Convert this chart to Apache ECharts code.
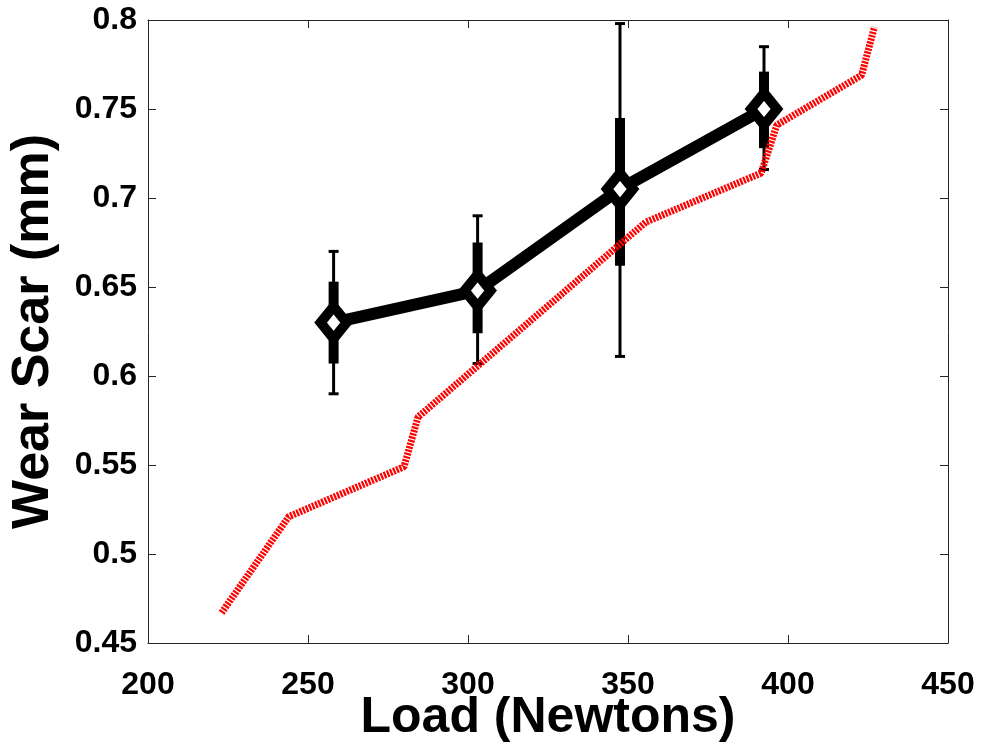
<!DOCTYPE html>
<html>
<head>
<meta charset="utf-8">
<script src="https://cdn.jsdelivr.net/npm/echarts@6/dist/echarts.min.js"></script>
<style>
  html, body { margin: 0; padding: 0; background: #fff; }
  #main { width: 984px; height: 752px; }
</style>
</head>
<body>
<div id="main"></div>
<script>
var chart = echarts.init(document.getElementById('main'));

// measured wear scar, mean per load
var loads = [258, 303, 347.5, 392.5];
var wearMean = [0.63, 0.648, 0.705, 0.75];
// outer (thin) error bars
var thinLow = [0.59, 0.607, 0.611, 0.716];
var thinHigh = [0.67, 0.69, 0.798, 0.785];
// inner (thick) error bars
var thickLow = [0.607, 0.624, 0.662, 0.728];
var thickHigh = [0.653, 0.675, 0.745, 0.771];

// model curve (red)
var modelLoad = [223, 244, 280, 284.4, 355.6, 391.6, 396.5, 423, 427];
var modelWear = [0.467, 0.521, 0.549, 0.577, 0.6865, 0.714, 0.741, 0.769, 0.796];

var xTicks = [200, 250, 300, 350, 400, 450];
var yTicks = [0.45, 0.5, 0.55, 0.6, 0.65, 0.7, 0.75, 0.8];

var meanData = loads.map(function (x, i) { return [x, wearMean[i]]; });
var barData = loads.map(function (x, i) {
    return [x, thinLow[i], thinHigh[i], thickLow[i], thickHigh[i]];
});
var modelData = modelLoad.map(function (x, i) { return [x, modelWear[i]]; });

var tickFont = {
    fontFamily: 'Liberation Sans',
    fontWeight: 'bold',
    fontSize: 32,
    color: '#000'
};
var lineColor = '#262626';

function renderBar(params, api) {
    var x = api.value(0);
    var pLo = api.coord([x, api.value(1)]);
    var pHi = api.coord([x, api.value(2)]);
    var tLo = api.coord([x, api.value(3)]);
    var tHi = api.coord([x, api.value(4)]);
    var cap = 5;
    var thin = { stroke: '#000', lineWidth: 3 };
    return {
        type: 'group',
        children: [
            { type: 'line', shape: { x1: pLo[0], y1: pLo[1], x2: pHi[0], y2: pHi[1] }, style: thin },
            { type: 'line', shape: { x1: pLo[0] - cap, y1: pLo[1], x2: pLo[0] + cap, y2: pLo[1] }, style: thin },
            { type: 'line', shape: { x1: pHi[0] - cap, y1: pHi[1], x2: pHi[0] + cap, y2: pHi[1] }, style: thin },
            { type: 'line', shape: { x1: tLo[0], y1: tLo[1], x2: tHi[0], y2: tHi[1] },
              style: { stroke: '#000', lineWidth: 10 } }
        ]
    };
}

chart.setOption({
    animation: false,
    backgroundColor: '#fff',
    grid: { left: 148, right: 36, top: 20, bottom: 109, outerBoundsMode: 'none', containLabel: false },
    xAxis: [{
        type: 'value',
        position: 'bottom',
        min: 200,
        max: 450,
        interval: 50,
        splitLine: { show: false },
        axisLine: { show: true, lineStyle: { color: lineColor, width: 1 } },
        axisTick: { show: true, inside: true, length: 8, lineStyle: { color: lineColor } },
        axisLabel: Object.assign({ margin: 26, formatter: function (v) { return xTicks.indexOf(v) >= 0 ? String(v) : ''; } }, tickFont),
        name: 'Load (Newtons)',
        nameLocation: 'middle',
        nameGap: 50,
        nameMoveOverlap: false,
        nameTextStyle: { fontFamily: 'Liberation Sans', fontWeight: 'bold', fontSize: 50, color: '#000' }
    }, {
        type: 'value',
        position: 'top',
        min: 200,
        max: 450,
        interval: 50,
        splitLine: { show: false },
        axisLine: { show: true, lineStyle: { color: lineColor, width: 1 } },
        axisTick: { show: true, inside: true, length: 8, lineStyle: { color: lineColor } },
        axisLabel: { show: false }
    }],
    yAxis: [{
        type: 'value',
        position: 'left',
        min: 0.45,
        max: 0.8,
        interval: 0.05,
        splitLine: { show: false },
        axisLine: { show: true, lineStyle: { color: lineColor, width: 1 } },
        axisTick: { show: true, inside: true, length: 8, lineStyle: { color: lineColor } },
        axisLabel: Object.assign({ margin: 11, formatter: function (v) {
            var r = Math.round(v * 100) / 100;
            return String(r);
        } }, tickFont),
        name: 'Wear Scar (mm)',
        nameLocation: 'middle',
        nameGap: 88,
        nameMoveOverlap: false,
        nameTextStyle: { fontFamily: 'Liberation Sans', fontWeight: 'bold', fontSize: 52, color: '#000' }
    }, {
        type: 'value',
        position: 'right',
        min: 0.45,
        max: 0.8,
        interval: 0.05,
        splitLine: { show: false },
        axisLine: { show: true, lineStyle: { color: lineColor, width: 1 } },
        axisTick: { show: true, inside: true, length: 8, lineStyle: { color: lineColor } },
        axisLabel: { show: false }
    }],
    series: [{
        type: 'custom',
        renderItem: renderBar,
        data: barData,
        z: 2,
        silent: true
    }, {
        type: 'line',
        data: meanData,
        z: 3,
        symbol: 'diamond',
        symbolSize: [26, 32],
        showAllSymbol: true,
        lineStyle: { color: '#000', width: 12 },
        itemStyle: { color: '#fff', borderColor: '#000', borderWidth: 10 }
    }, {
        type: 'line',
        data: modelData,
        z: 4,
        symbol: 'none',
        lineStyle: { color: '#ff0000', width: 7, type: [2.2, 1.2], cap: 'butt' }
    }]
});
</script>
</body>
</html>
